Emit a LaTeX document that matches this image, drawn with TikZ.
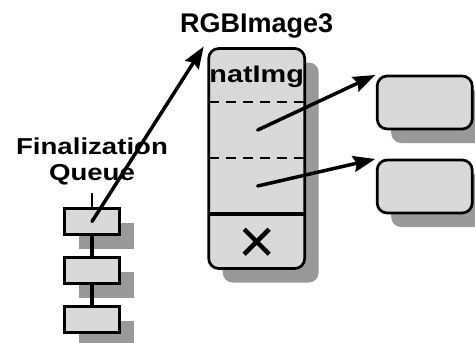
\documentclass[tikz,border=0pt]{standalone}
\usepackage{fontspec}
\setmainfont{Liberation Sans}
\newfontfamily\widefont{Liberation Sans}[FakeStretch=1.2]
\usetikzlibrary{positioning,shapes.misc,shadows,arrows.meta}
\definecolor{cellgray}{gray}{0.85}
\definecolor{shadegray}{gray}{0.6}

\begin{document}
\begin{tikzpicture}[x=1pt, y=-1pt, nodes = {align = center, outer sep = 0pt},
    box/.style = {draw, fill=cellgray, line width=2.7pt,
      general shadow={fill=shadegray, shadow xshift=14pt, shadow yshift=-14pt}},
    queuebox/.style = {box, minimum width=55pt, minimum height=26pt},
    refbox/.style = {box, rounded corners=10pt, minimum width=95pt,
      minimum height=53pt},
    sep/.style = {line width=2pt, dash pattern=on 10pt off 7pt},
    ptr/.style = {line width=3.5pt, line cap=round,
      -{Stealth[length=22pt, width=16pt, inset=3pt]}}]
    \useasboundingbox (0,0) rectangle (475,343);

    \node (obj) [box, rounded corners=10pt, minimum width=96pt,
    minimum height=220pt] at (256.7,158.5) {};

    \node (objname) [above = 10.5pt of obj.north, inner sep=0pt,
    font=\bfseries\fontsize{27}{27}\selectfont] {RGBImage3};

    \node (natimg) [below = 17.4pt of obj.north, inner sep=0pt,
    font=\widefont\bfseries\fontsize{24}{24}\selectfont] {natImg};

    \draw[sep] ([yshift=-53.6pt]obj.north west) -- ([yshift=-53.6pt]obj.north east);
    \draw[sep] ([yshift=-109.6pt]obj.north west) -- ([yshift=-109.6pt]obj.north east);
    \draw[line width=4.5pt] ([yshift=-165.6pt]obj.north west) --
    ([yshift=-165.6pt]obj.north east);

    \node (del) [cross out, draw, line width=4.5pt, minimum size=25pt,
    inner sep=0pt] at (256.7,241.7) {};

    \coordinate (field1) at (257.7,130);
    \coordinate (field2) at (257.7,186);

    \node (ref1) [refbox] at (424.7,102.5) {};
    \node (ref2) [refbox, below = 31pt of ref1] {};

    \node (q1) [queuebox] at (92,221.5) {};
    \node (q2) [queuebox, below = 23pt of q1] {};
    \node (q3) [queuebox, below = 23pt of q2] {};

    \node (qlabel) [above = 23pt of q1, inner sep=0pt,
    font=\widefont\bfseries\fontsize{23}{26}\selectfont] {Finalization\\Queue};

    \draw[line width=3.5pt] (q1) -- (q2) (q2) -- (q3);
    \draw[line width=2.5pt, shorten <=7.5pt] (qlabel) -- (q1);

    \path[ptr] (q1.center) edge ([xshift=-5pt, yshift=2pt]obj.north west);

    \path[ptr] (field1) edge ([xshift=-2pt, yshift=1pt]ref1.north west)
    (field2) edge ([xshift=-2pt, yshift=1pt]ref2.north west);
  \end{tikzpicture}
\end{document}
